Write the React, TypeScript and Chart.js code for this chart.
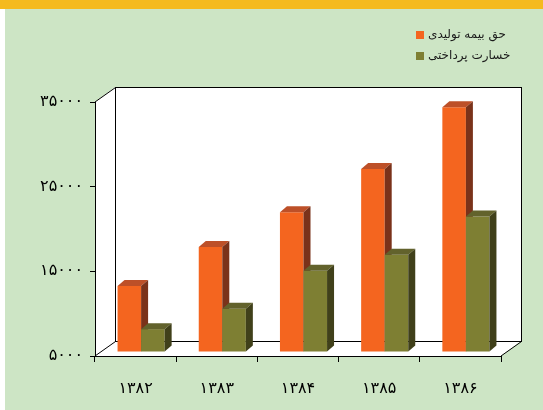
import React, { useEffect, useRef } from 'react';
import { Chart, registerables } from 'chart.js';

Chart.register(...registerables);

const categories = ['۱۳۸۲', '۱۳۸۳', '۱۳۸۴', '۱۳۸۵', '۱۳۸۶'];
const seriesLabels = ['حق بیمه تولیدی', 'خسارت پرداختی'];
const premiumValues = [12800, 17400, 21500, 26600, 33900];
const claimValues = [7700, 10100, 14600, 16500, 21000];
const yTickValues = [5000, 15000, 25000, 35000];
const yTickLabels = ['۵۰۰۰', '۱۵۰۰۰', '۲۵۰۰۰', '۳۵۰۰۰'];

const FRONT = ['#f4651f', '#7e7f33'];
const TOP = ['#bd5028', '#62622c'];
const SIDE = ['#7a321a', '#40401a'];

const WALL_DX = 20;
const WALL_DY = -15;
const BAR_DX = 5.5;
const BAR_DY = -4;
const DEPTH_DX = 7;
const DEPTH_DY = -6;

const threeD = {
  id: 'threeD',
  beforeDraw(chart: any) {
    const { ctx, chartArea: a } = chart;
    ctx.save();
    ctx.fillStyle = '#ffffff';
    ctx.beginPath();
    ctx.moveTo(a.left, a.top);
    ctx.lineTo(a.left + WALL_DX, a.top + WALL_DY);
    ctx.lineTo(a.right + WALL_DX, a.top + WALL_DY);
    ctx.lineTo(a.right + WALL_DX, a.bottom + WALL_DY);
    ctx.lineTo(a.right, a.bottom);
    ctx.lineTo(a.left, a.bottom);
    ctx.closePath();
    ctx.fill();
    ctx.strokeStyle = '#000';
    ctx.lineWidth = 1;
    const L = Math.round(a.left + WALL_DX) + 0.5;
    const T = Math.round(a.top + WALL_DY) + 0.5;
    const R = Math.round(a.right + WALL_DX) + 0.5;
    const B = Math.round(a.bottom + WALL_DY) + 0.5;
    ctx.strokeRect(L, T, R - L, B - T);
    ctx.beginPath();
    ctx.moveTo(a.left, a.top);
    ctx.lineTo(L, T);
    ctx.moveTo(a.left, a.bottom);
    ctx.lineTo(L, B);
    ctx.moveTo(a.right, a.bottom);
    ctx.lineTo(R, B);
    ctx.stroke();
    ctx.restore();
  },
  beforeDatasetsDraw() {
    // skip the flat pass; bars are drawn in depth order in afterDraw
    return false;
  },
  afterDraw(chart: any) {
    const { ctx } = chart;
    ctx.save();
    ctx.translate(BAR_DX, BAR_DY);
    const metas = chart.data.datasets.map((_: any, i: number) => chart.getDatasetMeta(i));
    const n = chart.data.labels.length;
    for (let j = 0; j < n; j++) {
      metas.forEach((meta: any, i: number) => {
        const el = meta.data[j];
        if (!el) return;
        el.draw(ctx);
        const { x, y, base, width } = el.getProps(['x', 'y', 'base', 'width'], true);
        const l = x - width / 2;
        const r = x + width / 2;
        ctx.fillStyle = TOP[i];
        ctx.beginPath();
        ctx.moveTo(l, y);
        ctx.lineTo(l + DEPTH_DX, y + DEPTH_DY);
        ctx.lineTo(r + DEPTH_DX, y + DEPTH_DY);
        ctx.lineTo(r, y);
        ctx.closePath();
        ctx.fill();
        ctx.fillStyle = SIDE[i];
        ctx.beginPath();
        ctx.moveTo(r, y);
        ctx.lineTo(r + DEPTH_DX, y + DEPTH_DY);
        ctx.lineTo(r + DEPTH_DX, base + DEPTH_DY);
        ctx.lineTo(r, base);
        ctx.closePath();
        ctx.fill();
      });
    }
    ctx.restore();

    ctx.save();
    ctx.font = '12px "DejaVu Sans"';
    ctx.textBaseline = 'middle';
    ctx.textAlign = 'left';
    chart.data.datasets.forEach((ds: any, i: number) => {
      const cy = 35 + i * 21;
      ctx.fillStyle = ds.backgroundColor;
      ctx.fillRect(416, cy - 4, 8, 8);
      ctx.fillStyle = '#1a1a1a';
      ctx.fillText(ds.label, 428, cy);
    });
    ctx.restore();
  },
};

export default function App() {
  const ref = useRef<HTMLCanvasElement>(null);
  useEffect(() => {
    if (!ref.current) return;
    const chart = new Chart(ref.current, {
      type: 'bar',
      data: {
        labels: categories,
        datasets: [
          { label: seriesLabels[0], data: premiumValues, backgroundColor: FRONT[0], borderWidth: 0, base: 5000 } as any,
          { label: seriesLabels[1], data: claimValues, backgroundColor: FRONT[1], borderWidth: 0, base: 5000 } as any,
        ],
      },
      options: {
        responsive: false,
        animation: false,
        devicePixelRatio: 1,
        layout: { padding: { left: 0, right: 42, top: 102, bottom: 0 } },
        datasets: { bar: { categoryPercentage: 0.58, barPercentage: 1 } },
        plugins: { legend: { display: false }, tooltip: { enabled: false } },
        scales: {
          x: {
            grid: { display: true, drawOnChartArea: false, drawTicks: true, tickLength: 6, color: '#000', offset: true },
            border: { display: true, color: '#000', width: 1 },
            ticks: { color: '#000', font: { family: 'DejaVu Sans', size: 16 }, padding: 17 },
            afterFit(s: any) { s.height = 54; },
          },
          y: {
            min: 5000,
            max: 35000,
            afterBuildTicks(s: any) { s.ticks = yTickValues.map((v) => ({ value: v })); },
            grid: { display: true, drawOnChartArea: false, drawTicks: true, tickLength: 5, color: '#000' },
            border: { display: true, color: '#000', width: 1 },
            ticks: {
              color: '#000',
              font: { family: 'DejaVu Sans', size: 16 },
              padding: 7,
              callback: (v: any) => yTickLabels[yTickValues.indexOf(Number(v))] ?? '',
            },
            afterFit(s: any) { s.width = 95; },
          },
        },
      },
      plugins: [threeD],
    });
    return () => chart.destroy();
  }, []);
  return (
    <div style={{ position: 'fixed', left: 0, top: 0, width: 543, height: 410, background: '#ffffff', overflow: 'hidden' }}>
      <div style={{ position: 'absolute', left: 5, top: 9, right: 0, bottom: 0, background: '#cde5c5' }} />
      <div style={{ position: 'absolute', left: 0, top: 0, right: 0, height: 9, background: '#f5ba1e' }} />
      <canvas ref={ref} width={543} height={410} style={{ position: 'absolute', left: 0, top: 0, width: 543, height: 410 }} />
    </div>
  );
}
